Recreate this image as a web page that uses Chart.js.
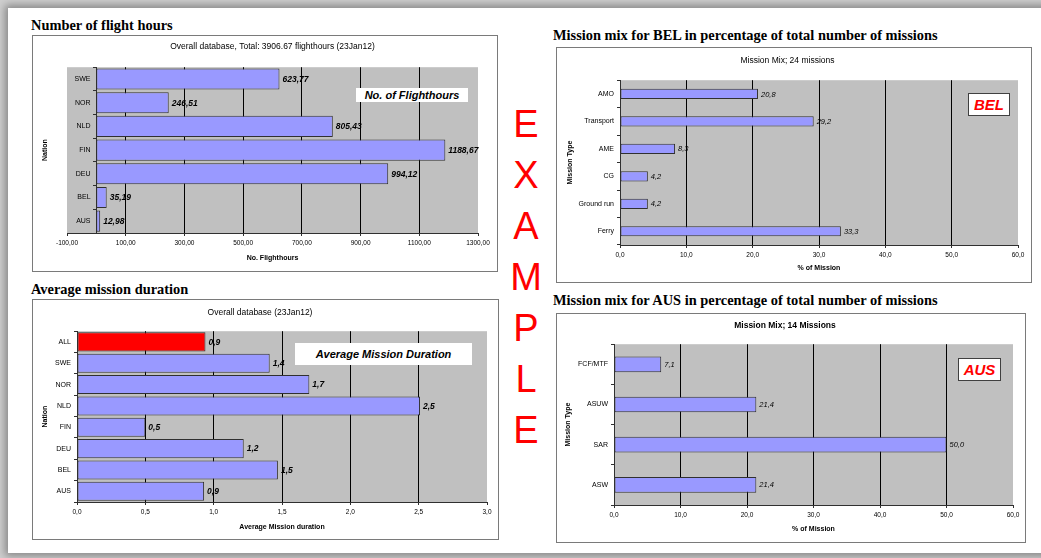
<!DOCTYPE html>
<html>
<head>
<meta charset="utf-8">
<script src="https://cdn.jsdelivr.net/npm/chart.js@4.4.1/dist/chart.umd.min.js"></script>
<style>
  body { margin: 0; width: 1041px; height: 558px; overflow: hidden; background: #cfcfcf; position: relative; }
  #page { position: absolute; left: 8px; top: 8px; width: 1100px; height: 545px; background: #fff;
          box-shadow: 0 0 8px 3px rgba(0,0,0,0.35); }
  .head { position: absolute; font: bold 14.4px "Liberation Serif", "Times New Roman", serif; line-height: 16px; white-space: nowrap; color: #000; }
  .box { position: absolute; border: 1px solid #7a7a7a; background: #fff; }
  .box canvas { display: block; }
  .tag { position: absolute; background: #fff; font: italic bold 11px "Liberation Sans", Arial, sans-serif;
         display: flex; align-items: center; justify-content: center; color: #000; z-index: 2; }
  .nat { border: 1px solid #404040; color: #ff0000; font-size: 15px; }
  #example { position: absolute; left: 506px; top: 99px; width: 40px; text-align: center; color: #ff0000;
             font: 38px "Liberation Sans", Arial, sans-serif; line-height: 51px; }
</style>
</head>
<body>
<div id="page"></div>

<div class="head" style="left:31px; top:17px;">Number of flight hours</div>
<div class="head" style="left:31px; top:281px;">Average mission duration</div>
<div class="head" style="left:553px; top:27px;">Mission mix for BEL in percentage of total number of missions</div>
<div class="head" style="left:553px; top:292px;">Mission mix for AUS in percentage of total number of missions</div>

<div class="box" style="left:32px; top:35px;"><canvas id="hours" width="464" height="235"></canvas></div>
<div class="box" style="left:32px; top:299px;"><canvas id="duration" width="465" height="239"></canvas></div>
<div class="box" style="left:556px; top:47px;"><canvas id="bel" width="474" height="234"></canvas></div>
<div class="box" style="left:556px; top:313px;"><canvas id="aus" width="468" height="228"></canvas></div>

<div class="tag" style="left:356px; top:88px; width:112px; height:14px;">No. of Flighthours</div>
<div class="tag" style="left:295px; top:343px; width:177px; height:22px;">Average Mission Duration</div>
<div class="tag nat" style="left:968px; top:93px; width:40px; height:21px;">BEL</div>
<div class="tag nat" style="left:958px; top:358px; width:41px; height:21px;">AUS</div>

<div id="example">E<br>X<br>A<br>M<br>P<br>L<br>E</div>

<script>
// flight hours per nation
const nations = ["SWE", "NOR", "NLD", "FIN", "DEU", "BEL", "AUS"];
const flightHours = [623.77, 246.51, 805.43, 1188.67, 994.12, 35.19, 12.98];
const hoursTicks = [-100, 1300, 200];

// average mission duration
const durationNations = ["ALL", "SWE", "NOR", "NLD", "FIN", "DEU", "BEL", "AUS"];
const avgDuration = [0.94, 1.41, 1.70, 2.51, 0.50, 1.22, 1.47, 0.93];
const durationTicks = [0, 3, 0.5];

// mission mix BEL / AUS (% of missions)
const belTypes = ["AMO", "Transport", "AME", "CG", "Ground run", "Ferry"];
const belMix = [20.8, 29.2, 8.3, 4.2, 4.2, 33.3];
const ausTypes = ["FCF/MTF", "ASUW", "SAR", "ASW"];
const ausMix = [7.1, 21.4, 50.0, 21.4];
const mixTicks = [0, 60, 10];

const BAR = "#9999ff";
const EDGE = "#303030";

Chart.defaults.font.family = "'Liberation Sans', Arial, sans-serif";
Chart.defaults.color = "#000";
Chart.defaults.animation = false;

function comma(v, d) {
  return v.toFixed(d).replace(".", ",");
}

const plotBg = {
  id: "plotBg",
  beforeDraw(chart) {
    const { ctx, chartArea: a } = chart;
    ctx.save();
    ctx.fillStyle = "#c0c0c0";
    ctx.fillRect(a.left, a.top, a.width, a.height);
    ctx.restore();
  },
};

const valueLabels = {
  id: "valueLabels",
  afterDatasetsDraw(chart, args, opts) {
    const { ctx } = chart;
    const data = chart.data.datasets[0].data;
    ctx.save();
    ctx.font = opts.font;
    ctx.fillStyle = "#000";
    ctx.textBaseline = "middle";
    chart.getDatasetMeta(0).data.forEach((bar, i) => {
      ctx.fillText(comma(data[i], opts.digits), bar.x + 3, bar.y + 0.5);
    });
    ctx.restore();
  },
};

// rotated title for the axis that sits at x = 0
const sideTitle = {
  id: "sideTitle",
  afterDraw(chart, args, opts) {
    if (!opts.text) return;
    const { ctx, chartArea: a } = chart;
    ctx.save();
    ctx.translate(opts.x, (a.top + a.bottom) / 2);
    ctx.rotate(-Math.PI / 2);
    ctx.font = "bold 7px 'Liberation Sans', Arial, sans-serif";
    ctx.textAlign = "center";
    ctx.textBaseline = "middle";
    ctx.fillText(opts.text, 0, 0);
    ctx.restore();
  },
};

function gridColor(lo, hi) {
  return (c) => (c.tick && (c.tick.value === lo || c.tick.value === hi) ? "rgba(0,0,0,0)" : "#000");
}

function makeChart(id, cfg) {
  const [lo, hi, step] = cfg.ticks;
  return new Chart(document.getElementById(id), {
    type: "bar",
    data: {
      labels: cfg.labels,
      datasets: [
        {
          data: cfg.values,
          backgroundColor: cfg.colors || BAR,
          borderColor: EDGE,
          borderWidth: 1,
          borderSkipped: false,
          categoryPercentage: 1,
          barPercentage: cfg.barPct,
        },
      ],
    },
    options: {
      indexAxis: "y",
      responsive: false,
      layout: { padding: { left: cfg.padLeft || 0, right: cfg.padRight, top: 0, bottom: 0 } },
      plugins: {
        legend: { display: false },
        tooltip: { enabled: false },
        title: {
          display: true,
          text: cfg.title,
          font: { size: 8.5, weight: cfg.titleBold ? "bold" : "normal" },
          padding: cfg.titlePad,
        },
        valueLabels: { font: cfg.labelFont, digits: cfg.digits },
        sideTitle: { text: cfg.sideText, x: cfg.sideX },
      },
      scales: {
        x: {
          min: lo,
          max: hi,
          ticks: {
            stepSize: step,
            font: { size: 6.5 },
            padding: 3,
            callback: (v) => comma(v, cfg.tickDigits),
          },
          grid: { color: gridColor(lo, hi), tickColor: EDGE, tickLength: 3 },
          border: { display: true, color: EDGE },
          title: {
            display: true,
            text: cfg.xTitle,
            font: { size: 7, weight: "bold" },
            padding: { top: 2, bottom: cfg.xTitlePadB },
          },
          afterFit: (s) => { s.height = cfg.xHeight; },
        },
        y: {
          position: cfg.yPos || "left",
          ticks: {
            font: { size: 7 },
            padding: 3,
            // the axis sitting at x = 0 puts its labels flush on the line, so pad them
            callback: function (v) {
              return this.getLabelForValue(v) + (cfg.yPos ? "   " : "");
            },
          },
          grid: { offset: true, drawOnChartArea: false, color: EDGE, tickLength: 3 },
          border: { display: true, color: EDGE },
          title: {
            display: !!cfg.yTitle,
            text: cfg.yTitle,
            font: { size: 7, weight: "bold" },
            padding: { top: cfg.yTitlePadT || 0, bottom: 0 },
          },
          afterFit: (s) => { if (cfg.yWidth) s.width = cfg.yWidth; },
        },
      },
    },
    plugins: [plotBg, valueLabels, sideTitle],
  });
}

makeChart("hours", {
  labels: nations,
  values: flightHours,
  ticks: hoursTicks,
  tickDigits: 2,
  digits: 2,
  barPct: 0.89,
  title: "Overall database, Total: 3906.67 flighthours (23Jan12)",
  titlePad: { top: 5.5, bottom: 15.5 },
  padLeft: 34,
  padRight: 19,
  xTitle: "No. Flighthours",
  xTitlePadB: 9,
  xHeight: 38,
  yPos: { x: 0 },
  sideText: "Nation",
  sideX: 12,
  labelFont: "italic bold 8.5px 'Liberation Sans', Arial, sans-serif",
});

makeChart("duration", {
  labels: durationNations,
  values: avgDuration,
  colors: durationNations.map((n) => (n === "ALL" ? "#ff0000" : BAR)),
  ticks: durationTicks,
  tickDigits: 1,
  digits: 1,
  barPct: 0.89,
  title: "Overall database (23Jan12)",
  titlePad: { top: 8, bottom: 13 },
  padRight: 11,
  xTitle: "Average Mission duration",
  xTitlePadB: 8,
  xHeight: 37,
  yTitle: "Nation",
  yTitlePadT: 8,
  yWidth: 44,
  labelFont: "italic bold 8.5px 'Liberation Sans', Arial, sans-serif",
});

makeChart("bel", {
  labels: belTypes,
  values: belMix,
  ticks: mixTicks,
  tickDigits: 1,
  digits: 1,
  barPct: 0.37,
  title: "Mission Mix; 24 missions",
  titlePad: { top: 8, bottom: 14 },
  padRight: 13,
  xTitle: "% of Mission",
  xTitlePadB: 10,
  xHeight: 37,
  yTitle: "Mission Type",
  yTitlePadT: 9,
  yWidth: 63,
  labelFont: "italic 7.5px 'Liberation Sans', Arial, sans-serif",
});

makeChart("aus", {
  labels: ausTypes,
  values: ausMix,
  ticks: mixTicks,
  tickDigits: 1,
  digits: 1,
  barPct: 0.39,
  title: "Mission Mix; 14 Missions",
  titleBold: true,
  titlePad: { top: 7, bottom: 13 },
  padRight: 12,
  xTitle: "% of Mission",
  xTitlePadB: 9,
  xHeight: 37,
  yTitle: "Mission Type",
  yTitlePadT: 7,
  yWidth: 57,
  labelFont: "italic 7.5px 'Liberation Sans', Arial, sans-serif",
});
</script>
</body>
</html>
